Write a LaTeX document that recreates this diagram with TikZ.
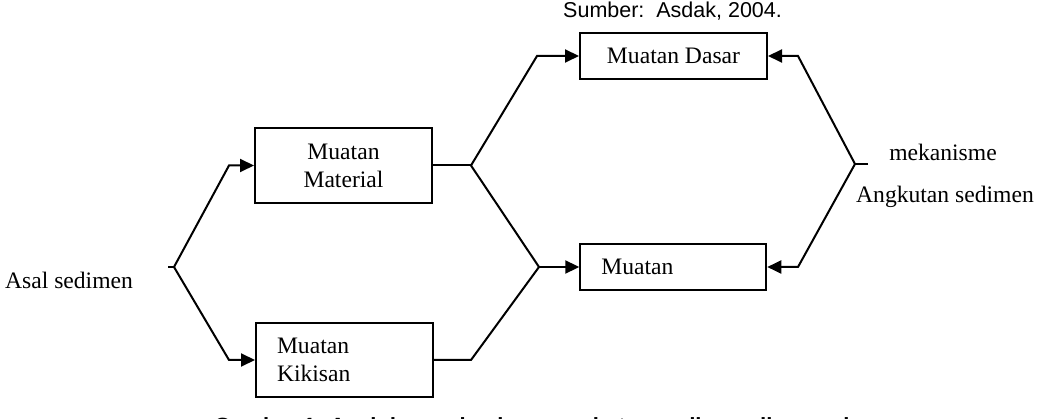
\documentclass[tikz,border=0pt]{standalone}
\usepackage{fontspec}
\setmainfont{Liberation Serif}
\newfontfamily\arialf{Liberation Sans}
\usetikzlibrary{arrows.meta}
\begin{document}
\begin{tikzpicture}[x=1pt,y=-1pt,
  box/.style={draw, line width=2pt, minimum width=177pt, minimum height=75pt, inner sep=0pt, font=\fontsize{23.6}{28}\selectfont},
  conn/.style={line width=2pt},
  arr/.style={conn, -{Triangle[length=14pt,width=13pt]}},
  lbl/.style={font=\fontsize{23.6}{28}\selectfont, inner sep=0pt}]
\useasboundingbox (0,0) rectangle (1042,419);
% boxes
\node[box, minimum width=187pt, minimum height=46pt] (dasar) at (673.5,56) {Muatan Dasar};
\node[box, align=center] (material) at (343.5,165.5) {Muatan\\Material};
\node[box, minimum height=74pt, text width=135pt, align=left, inner xsep=21pt] (kikisan) at (344.5,360) {Muatan\\Kikisan};
\node[box, minimum width=186pt, minimum height=46pt, text width=144pt, align=left, inner xsep=21pt] (muatan) at (673.3,267) {Muatan};
% labels
\node[lbl, anchor=base] (asal) at (69,289) {Asal sedimen};
\node[lbl, anchor=base] (mek) at (943,161) {mekanisme};
\node[lbl, anchor=base] (angk) at (945,203) {Angkutan sedimen};
\node[anchor=base west, inner sep=0pt, font=\arialf\fontsize{21.5}{26}\selectfont] (sumber) at (563,17.5) {Sumber:~~Asdak, 2004.};
\node[anchor=base west, inner sep=0pt, font=\arialf\bfseries\fontsize{22}{26}\selectfont] (caption) at (214,433.5) {Gambar 1. Asal dan mekanisme angkutan sedimen di sungai};
% junction points
\coordinate (ltick) at (168,267);
\coordinate (jl) at (174,267);
\coordinate (lu) at (229,165.5);
\coordinate (ld) at (229,360);
\coordinate (jm) at (471,165.5);
\coordinate (mu) at (537,56);
\coordinate (jb) at (539,267);
\coordinate (kr) at (471,360);
\coordinate (rtick) at (868,164);
\coordinate (jr) at (855,164);
\coordinate (ru) at (798,56);
\coordinate (rd) at (798,267);
% connectors
\draw[conn] (ltick) -- (jl);
\draw[arr] (jl) -- (lu) -- (material.west);
\draw[arr] (jl) -- (ld) -- (kikisan.west);
\draw[conn] (material.east) -- (jm);
\draw[arr] (jm) -- (mu) -- (dasar.west);
\draw[conn] (jm) -- (jb);
\draw[conn] (kikisan.east) -- (kr) -- (jb);
\draw[arr] (jb) -- (muatan.west);
\draw[conn] (rtick) -- (jr);
\draw[arr] (jr) -- (ru) -- (dasar.east);
\draw[arr] (jr) -- (rd) -- (muatan.east);
\end{tikzpicture}
\end{document}
